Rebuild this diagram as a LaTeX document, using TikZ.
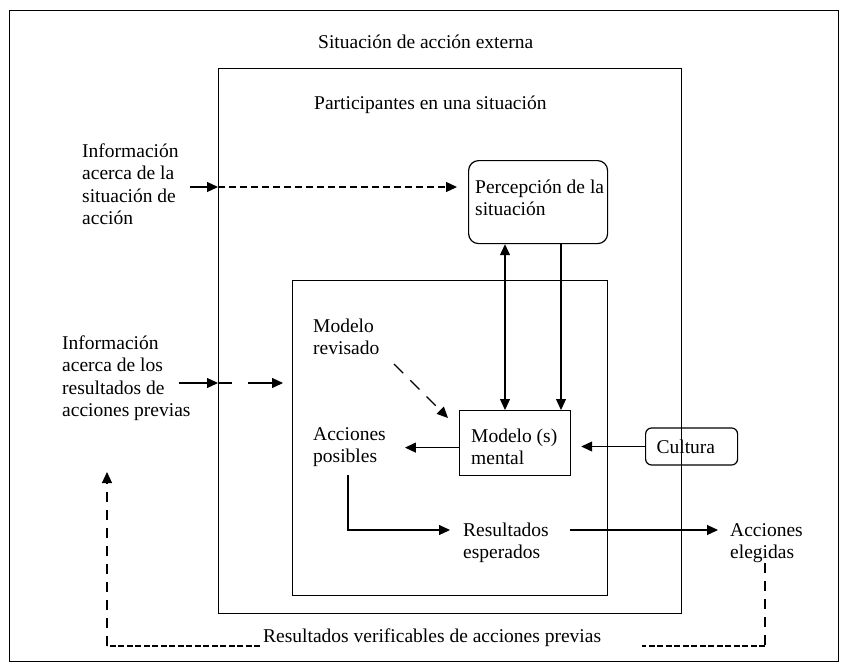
\documentclass[tikz,border=0pt]{standalone}
\usepackage{fontspec}
\setmainfont{Liberation Serif}
\usetikzlibrary{arrows.meta}
\begin{document}
\begin{tikzpicture}[x=1pt,y=-1pt,
  every node/.style={font=\fontsize{19.5}{22.5}\selectfont},
  frame/.style={draw, line width=1.2pt, inner sep=0pt, anchor=north west},
  lbl/.style={anchor=north west, inner sep=0pt, align=left, yshift=15.75pt},
  conn/.style={line width=1.2pt},
  tip/.tip={Triangle[length=11pt,width=10pt]},
  arr/.style={conn, -tip},
  dsh/.style={conn, dash pattern=on 7pt off 4pt},
  longdsh/.style={conn, dash pattern=on 13pt off 10pt},
  loopdsh/.style={conn, dash pattern=on 10pt off 8pt},
  ulinedsh/.style={conn, dash pattern=on 6pt off 2.5pt}
]
\useasboundingbox (0,0) rectangle (848,669);

% nested frames
\node[frame, minimum width=829pt, minimum height=651pt] (outer) at (9,10) {};
\node[frame, minimum width=463pt, minimum height=545pt] (mid) at (218,68) {};
\node[frame, minimum width=315pt, minimum height=315pt] (inner) at (292,280) {};

% frame titles
\node[lbl] (title) at (318,48) {\strut Situación de acción externa};
\node[lbl] (part) at (314,109) {\strut Participantes en una situación};

% boxes
\node[frame, rounded corners=10pt, minimum width=139pt, minimum height=83pt] (perc) at (468,160) {};
\node[lbl] (perct) at (475,193) {\strut Percepción de la\\situación};
\node[frame, minimum width=111pt, minimum height=65pt] (model) at (459,410) {};
\node[lbl] (modelt) at (471,442) {\strut Modelo (s)\\mental};
\node[frame, rounded corners=6pt, minimum width=92pt, minimum height=37pt,
      anchor=west, text width=70pt, align=left, inner xsep=11pt] (cult) at (645,446.5) {Cultura};

% free labels
\node[lbl] (info1) at (82,157) {\strut Información\\acerca de la\\situación de\\acción};
\node[lbl] (info2) at (62,349) {\strut Información\\acerca de los\\resultados de\\acciones previas};
\node[lbl] (rev) at (313,332) {\strut Modelo\\revisado};
\node[lbl] (acc) at (313,440) {\strut Acciones\\posibles};
\node[lbl] (res) at (463,536) {\strut Resultados\\esperados};
\node[lbl] (ele) at (730,536) {\strut Acciones\\elegidas};
\node[lbl] (verif) at (263,642) {\strut Resultados verificables de acciones previas};

% helper coordinates for connector rows and columns
\coordinate (a1) at (190,187);
\coordinate (a2) at (179,383);
\coordinate (x505) at (505,0);
\coordinate (x561) at (561,0);
\coordinate (ap) at (348,475);
\coordinate (row) at (0,530);
\coordinate (lb) at (107,646);
\coordinate (rb) at (765,646);
\coordinate (lt) at (107,472);

% information about the action situation
\draw[arr] (a1) -- (a1 -| mid.west);
\draw[dsh, -tip, shorten >=11pt] (a1 -| mid.west) -- (a1 -| perc.west);

% information about previous outcomes
\draw[arr] (a2) -- (a2 -| mid.west);
\draw[conn, dash pattern=on 14pt off 16pt on 200pt, -tip, shorten >=9pt] (a2 -| mid.west) -- (a2 -| inner.west);

% revised model
\draw[longdsh, -tip] (394,364) -- ([shift={(-11,8)}]model.north west);

% perception <-> mental model
\draw[conn, tip-tip] (perc.south -| x505) -- (model.north -| x505);
\draw[arr] (perc.south -| x561) -- (model.north -| x561);

% mental model -> possible actions, culture -> mental model
\draw[arr, shorten >=19pt] ([yshift=-4.5pt]model.west) -- ([yshift=-4.5pt]model.west -| acc.east);
\draw[arr, shorten >=10pt] (cult.west) -- (cult.west -| model.east);

% possible actions -> expected results -> chosen actions
\draw[arr, shorten >=13pt] (ap) |- (res.west |- row);
\draw[arr, shorten <=21pt, shorten >=12pt] (res.east |- row) -- (ele.west |- row);

% feedback loop of verifiable outcomes
\draw[loopdsh] (ele.south -| rb) -- (rb);
\draw[ulinedsh] (rb) -- ([xshift=41pt]rb -| verif.east);
\draw[ulinedsh] ([xshift=-3pt]lb -| verif.west) -- (lb);
\draw[loopdsh, -tip] (lb) -- (lt);
\end{tikzpicture}
\end{document}
